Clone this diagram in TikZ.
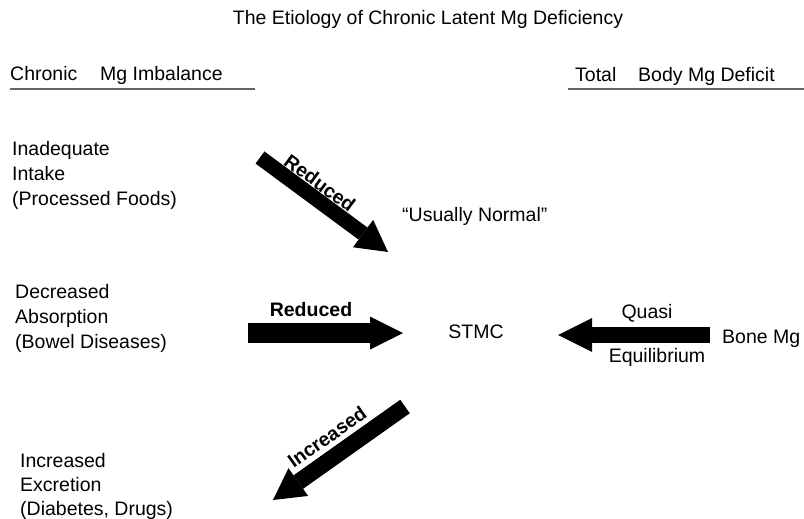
\documentclass[tikz,border=0pt]{standalone}
\usepackage{fontspec}
\setmainfont{Liberation Sans}
\usetikzlibrary{arrows.meta}
\begin{document}
\begin{tikzpicture}[x=1pt,y=-1pt,
  txt/.style={inner sep=0pt,anchor=base west,font=\fontsize{19.5}{24}\selectfont},
  ctxt/.style={inner sep=0pt,anchor=base,font=\fontsize{19.5}{24}\selectfont},
  btxt/.style={inner sep=0pt,font=\fontsize{19.5}{24}\selectfont\bfseries},
  rule/.style={draw=black!60,line width=2.2pt},
  bigarrow/.style={line width=#1,draw=black}
]
\useasboundingbox (0,0) rectangle (804,519);
% title
\node[ctxt] (title) at (428,25) {The Etiology of Chronic Latent Mg Deficiency};
% headers
\node[txt] (chronic) at (10,81) {Chronic};
\node[txt] (imb) at (100,81) {Mg Imbalance};
\coordinate (l1a) at (10,89);
\coordinate (l1b) at (255,89);
\draw[rule] (l1a) -- (l1b);
\node[txt] (total) at (575,82) {Total};
\node[txt] (bodydef) at (638,82) {Body Mg Deficit};
\coordinate (l2a) at (568,89);
\coordinate (l2b) at (804,89);
\draw[rule] (l2a) -- (l2b);
% left column
\node[txt] (i1) at (12,155) {Inadequate};
\node[txt] (i2) at (12,180) {Intake};
\node[txt] (i3) at (12,205) {(Processed Foods)};
\node[txt] (d1) at (15,298) {Decreased};
\node[txt] (d2) at (15,323) {Absorption};
\node[txt] (d3) at (15,348) {(Bowel Diseases)};
\node[txt] (e1) at (20,467) {Increased};
\node[txt] (e2) at (20,491) {Excretion};
\node[txt] (e3) at (20,515) {(Diabetes, Drugs)};
% centre
\node[txt] (usual) at (402,221) {“Usually Normal”};
\node[ctxt] (stmc) at (476,338) {STMC};
\node[ctxt] (quasi) at (647,318) {Quasi};
\node[ctxt] (equi) at (657,362) {Equilibrium};
\node[txt] (bone) at (722,343) {Bone Mg};
% arrow 1 (reduced intake)
\coordinate (a1s) at (260,157.5);
\coordinate (a1e) at (388,252);
\draw[bigarrow=15pt,-{Triangle[width=34pt,length=31pt,line width=0pt]}] (a1s) -- (a1e);
\node[btxt,rotate=-36.4] (lab1) at (320,183) {Reduced};
% arrow 2 (reduced absorption)
\coordinate (a2s) at (248,333);
\coordinate (a2e) at (403,333);
\draw[bigarrow=20pt,-{Triangle[width=33pt,length=33pt,line width=0pt]}] (a2s) -- (a2e);
\node[btxt,anchor=base] (lab2) at (311,316) {Reduced};
% arrow 3 (bone)
\coordinate (a3s) at (710,335);
\coordinate (a3e) at (558,335);
\draw[bigarrow=16.5pt,-{Triangle[width=34pt,length=34pt,line width=0pt]}] (a3s) -- (a3e);
% arrow 4 (increased excretion)
\coordinate (a4s) at (405,406.5);
\coordinate (a4e) at (273,500);
\draw[bigarrow=16.5pt,-{Triangle[width=34pt,length=31pt,line width=0pt]}] (a4s) -- (a4e);
\node[btxt,rotate=35.3] (lab4) at (327,437) {Increased};
\end{tikzpicture}
\end{document}
